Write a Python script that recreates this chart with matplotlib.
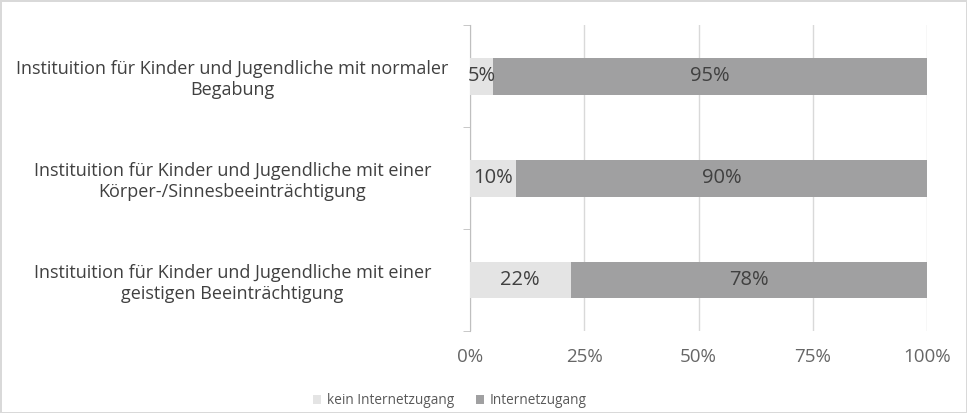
import matplotlib
matplotlib.use("Agg")
import matplotlib.pyplot as plt
import numpy as np

plt.rcParams['font.family'] = ['Open Sans', 'DejaVu Sans']

categories = [
    "Instituition für Kinder und Jugendliche mit einer\ngeistigen Beeinträchtigung",
    "Instituition für Kinder und Jugendliche mit einer\nKörper-/Sinnesbeeinträchtigung",
    "Instituition für Kinder und Jugendliche mit normaler\nBegabung",
]
kein = [22, 10, 5]
mit = [78, 90, 95]
series_names = ["kein Internetzugang", "Internetzugang"]
xticks = [0, 25, 50, 75, 100]

LIGHT = "#e4e4e4"
DARK = "#a0a0a1"
TEXT = "#404040"

fig = plt.figure(figsize=(9.67, 4.13), dpi=100)
fig.patch.set_edgecolor("#d9d9d9")
fig.patch.set_linewidth(2)
ax = fig.add_axes([0.486, 0.1985, 0.473, 0.74])

y = np.arange(len(categories))
h = 0.36
b1 = ax.barh(y, kein, height=h, color=LIGHT, label=series_names[0], zorder=3)
b2 = ax.barh(y, mit, left=kein, height=h, color=DARK, label=series_names[1], zorder=3)

# data labels in the middle of each segment
for i in range(len(categories)):
    ax.text(kein[i] / 2, y[i], f"{kein[i]}%", ha="center", va="center",
            fontsize=14.5, color=TEXT, zorder=4)
    ax.text(kein[i] + mit[i] / 2, y[i], f"{mit[i]}%", ha="center", va="center",
            fontsize=14.5, color=TEXT, zorder=4)

ax.set_xlim(0, 100)
ax.set_ylim(-0.5, 2.5)
ax.set_xticks(xticks)
ax.set_xticklabels([f"{v}%" for v in xticks], fontsize=13.5, color="#666666")
ax.set_yticks(y)
ax.set_yticklabels(categories, fontsize=13, color=TEXT, ha="center")
ax.tick_params(axis="y", pad=171, length=0)
ax.tick_params(axis="x", length=0, pad=12)
ax.set_yticks([-0.5, 0.5, 1.5, 2.5], minor=True)
ax.tick_params(axis="y", which="minor", length=5, color="#bfbfbf")

ax.grid(axis="x", color="#d9d9d9", linewidth=1, zorder=0)
for s in ["top", "right", "bottom"]:
    ax.spines[s].set_visible(False)
ax.spines["left"].set_color("#bfbfbf")

fig.legend(handles=[b1, b2], labels=series_names, loc="center", ncol=2,
           bbox_to_anchor=(0.465, 0.03), frameon=False, fontsize=9.8,
           handlelength=0.6, handleheight=0.6, columnspacing=1.6,
           handletextpad=0.4, labelcolor="#595959")

fig.savefig("out.png", dpi=100)
